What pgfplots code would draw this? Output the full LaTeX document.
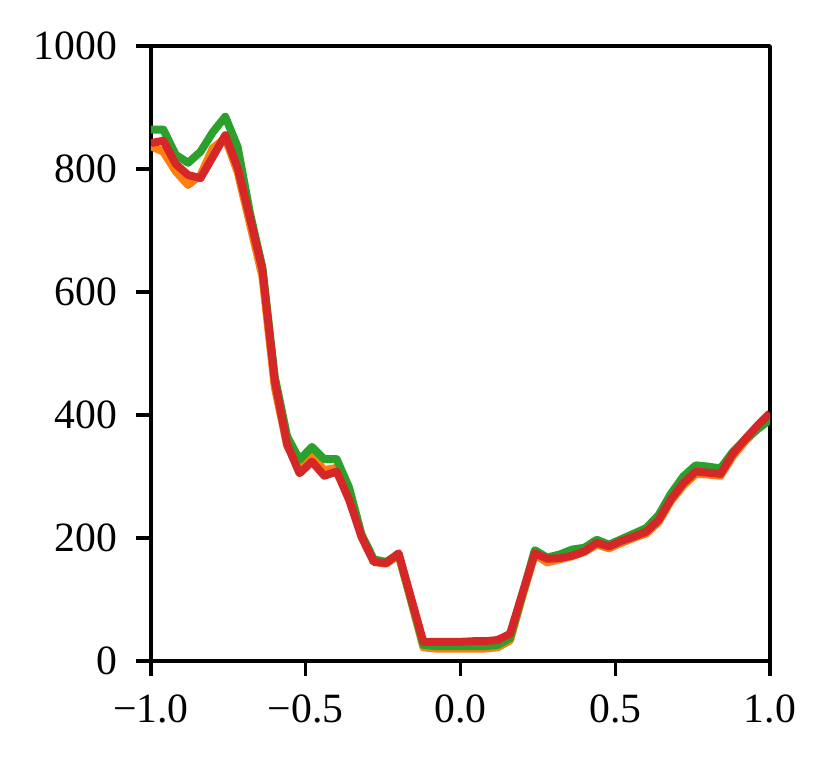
\documentclass[border=0pt]{standalone}
\usepackage{fontspec}
\setmainfont{Liberation Serif}
\usepackage{pgfplots}
\usepackage{pgfplotstable}
\pgfplotsset{compat=1.18}

\definecolor{mplorange}{HTML}{FF7F0E}
\definecolor{mplgreen}{HTML}{2CA02C}
\definecolor{mplred}{HTML}{D62728}

\pgfplotstableread{
x      O    G    R
-1.00  837  864  842
-0.96  828  864  846
-0.92  796  823  808
-0.88  774  810  790
-0.84  790  828  785
-0.80  834  860  820
-0.76  850  885  855
-0.72  795  836  802
-0.68  710  728  720
-0.64  625  640  636
-0.60  445  462  455
-0.56  350  365  352
-0.52  313  327  305
-0.48  334  348  324
-0.44  310  328  301
-0.40  314  328  308
-0.36  270  282  262
-0.32  202  206  202
-0.28  161  165  161
-0.24  158  161  159
-0.20  172  174  175
-0.16   98  100  103
-0.12   22   26   31
-0.08   20   24   31
-0.04   20   24   31
 0.00   20   24   31
 0.04   20   24   32
 0.08   20   24   32
 0.12   22   26   34
 0.16   33   37   44
 0.20  105  108  110
 0.24  173  180  175
 0.28  160  168  166
 0.32  165  173  167
 0.36  170  181  171
 0.40  177  184  178
 0.44  189  197  192
 0.48  183  189  186
 0.52  192  198  195
 0.56  200  207  202
 0.60  207  216  210
 0.64  226  237  229
 0.68  260  272  263
 0.72  285  300  289
 0.76  304  318  308
 0.80  303  316  306
 0.84  301  313  304
 0.88  333  340  337
 0.92  357  360  361
 0.96  378  377  383
 1.00  396  392  403
}\datatable

\begin{document}
\begin{tikzpicture}
    \begin{axis}[
        scale only axis,
        width=148.6pt,
        height=147.6pt,
        xmin=-1, xmax=1,
        ymin=0, ymax=1000,
        xtick={-1,-0.5,0,0.5,1},
        xticklabels={−1.0,−0.5,0.0,0.5,1.0},
        ytick={0,200,400,600,800,1000},
        yticklabels={0,200,400,600,800,1000},
        tick align=outside,
        tick pos=left,
        major tick length=3.6pt,
        every tick/.style={black, line width=0.8pt},
        axis line style={line width=0.8pt},
        ticklabel style={font=\fontsize{10}{12}\selectfont},
        xticklabel style={yshift=-1pt},
        yticklabel style={xshift=-1pt},
        line join=round,
    ]
        \addplot[mplorange, line width=1.9pt] table[x=x, y=O] {\datatable};
        \addplot[mplgreen, line width=1.9pt] table[x=x, y=G] {\datatable};
        \addplot[mplred, line width=1.9pt] table[x=x, y=R] {\datatable};
    \end{axis}
    \path ([xshift=-36.24pt,yshift=-25.2pt]current axis.south west) rectangle ([xshift=14.64pt,yshift=11.04pt]current axis.north east);
\end{tikzpicture}
\end{document}
